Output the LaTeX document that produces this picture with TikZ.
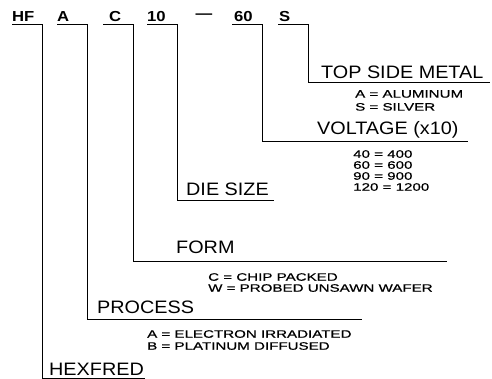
\documentclass[tikz,border=0pt]{standalone}
\usepackage{fontspec}
\setmainfont{Liberation Sans}
\newfontfamily\codefont{Liberation Sans}[FakeStretch=1.15]
\newfontfamily\labelfont{Liberation Sans}[FakeStretch=1.1]
\newfontfamily\descfont{Liberation Sans}[FakeStretch=1.4,FakeBold=0.6]
\usetikzlibrary{positioning}
\tikzset{
  code/.style={font={\codefont\bfseries\fontsize{14.5}{14.5}\selectfont},anchor=south west,
    inner xsep=0pt,inner ysep=3pt,text width=30pt,align=left,text height=10.5pt,text depth=0pt},
  gap/.style={font={\codefont\bfseries\fontsize{14.5}{14.5}\selectfont},anchor=base,inner sep=0pt},
  field/.style={font={\labelfont\fontsize{18}{18}\selectfont},anchor=west,inner sep=0pt,
    text height=13pt,text depth=0pt},
  note/.style={font={\descfont\fontsize{10.8}{#1}\selectfont},anchor=north west,inner sep=0pt,align=left},
  note/.default=11,
  link/.style={draw=black,line width=1pt},
}
\begin{document}
\begin{tikzpicture}[x=1pt,y=-1pt]
  \useasboundingbox (0,0) rectangle (492,379);
  % part number
  \node[code] (hf) at (12,25) {HF};
  \node[code] (a) at (57,25) {A};
  \node[code] (c) at (103,25) {\hspace*{6pt}C};
  \node[code] (ten) at (147,25) {10};
  \node[gap] (dash) at (204,19) {—};
  \node[code] (sixty) at (232,25) {\hspace*{2pt}60};
  \node[code] (s) at (278,25) {\hspace*{1pt}S};
  % fields
  \node[field] (metal) at (321,72) {TOP SIDE METAL};
  \node[note=13] (metal list) at (355,90) {A = ALUMINUM\\S = SILVER};
  \node[field] (volt) at (317,128) {VOLTAGE (x10)};
  \node[note] (volt list) at (353,150) {40 = 400\\60 = 600\\90 = 900\\120 = 1200};
  \node[field] (die) at (186,189) {DIE SIZE};
  \node[field] (form) at (176,247) {FORM};
  \node[note] (form list) at (208,273) {C = CHIP PACKED\\W = PROBED UNSAWN WAFER};
  \node[field] (proc) at (97,307) {PROCESS};
  \node[note=12] (proc list) at (147,330) {A = ELECTRON IRRADIATED\\B = PLATINUM DIFFUSED};
  \node[field] (hexfred) at (49,369) {HEXFRED};
  \coordinate (metal end) at (490,83);
  \coordinate (volt end) at (468,142);
  \coordinate (die end) at (274,201);
  \coordinate (form end) at (447,261);
  \coordinate (proc end) at (362,319);
  \coordinate (hexfred end) at (145,378);
  \draw[link] (s.south west) -- (s.south east) |- (metal end);
  \draw[link] (sixty.south west) -- (sixty.south east) |- (volt end);
  \draw[link] (ten.south west) -- (ten.south east) |- (die end);
  \draw[link] (c.south west) -- (c.south east) |- (form end);
  \draw[link] (a.south west) -- (a.south east) |- (proc end);
  \draw[link] (hf.south west) -- (hf.south east) |- (hexfred end);
\end{tikzpicture}
\end{document}
